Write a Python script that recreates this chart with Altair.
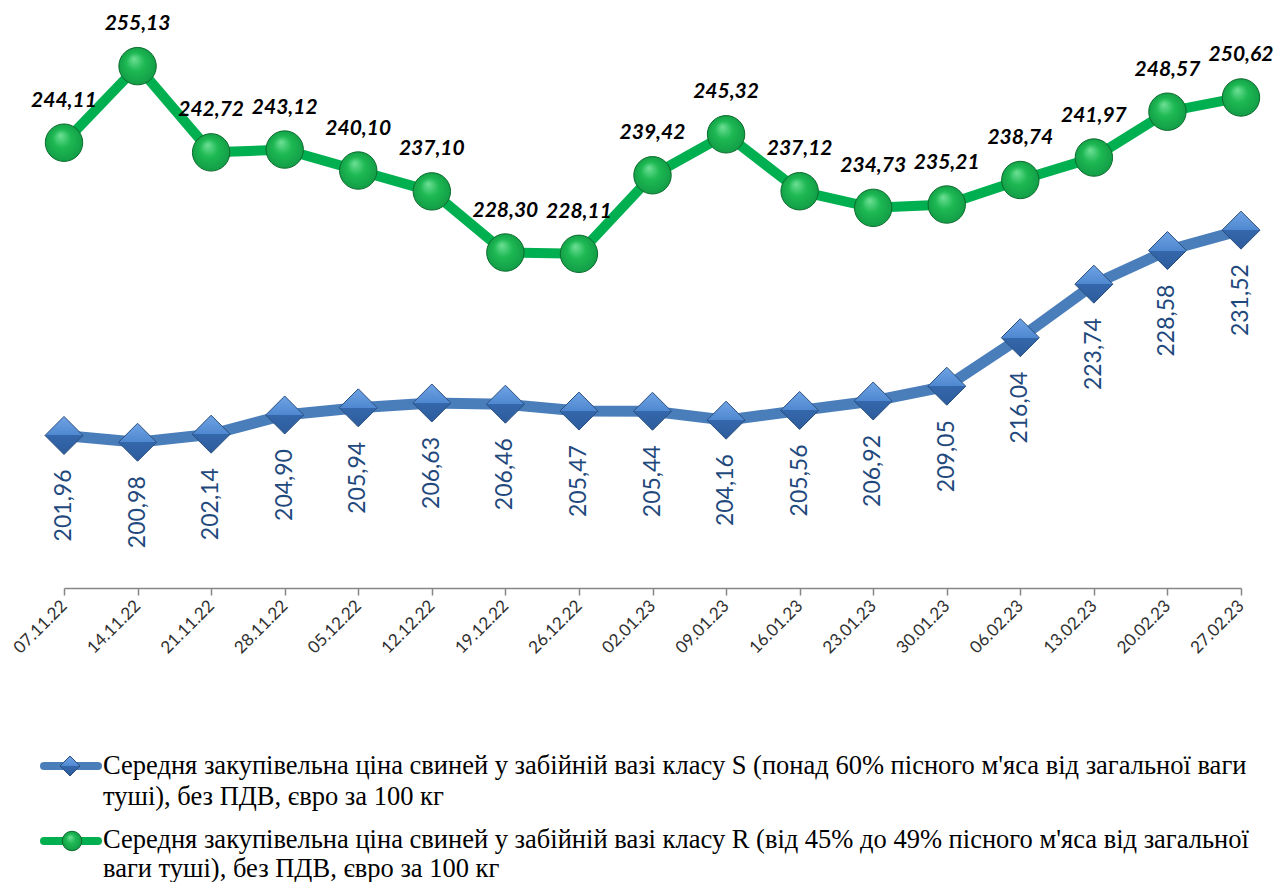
import altair as alt
import pandas as pd

dates = ["07.11.22", "14.11.22", "21.11.22", "28.11.22", "05.12.22", "12.12.22",
         "19.12.22", "26.12.22", "02.01.23", "09.01.23", "16.01.23", "23.01.23",
         "30.01.23", "06.02.23", "13.02.23", "20.02.23", "27.02.23"]
price_s = [201.96, 200.98, 202.14, 204.90, 205.94, 206.63, 206.46, 205.47, 205.44,
           204.16, 205.56, 206.92, 209.05, 216.04, 223.74, 228.58, 231.52]
price_r = [244.11, 255.13, 242.72, 243.12, 240.10, 237.10, 228.30, 228.11, 239.42,
           245.32, 237.12, 234.73, 235.21, 238.74, 241.97, 248.57, 250.62]
legend_s = ["Середня закупівельна ціна свиней у забійній вазі класу S (понад 60% пісного м'яса від загальної ваги",
            "туші), без ПДВ, євро за 100 кг"]
legend_r = ["Середня закупівельна ціна свиней у забійній вазі класу R (від 45% до 49% пісного м'яса від загальної",
            "ваги туші), без ПДВ, євро за 100 кг"]

BLUE = "#4A7EBB"
GREEN = "#00B050"
SERIF = "Liberation Serif"

df = pd.DataFrame({"date": dates, "s": price_s, "r": price_r})
df["s_label"] = [f"{v:.2f}".replace(".", ",") for v in price_s]
df["r_label"] = [f"{v:.2f}".replace(".", ",") for v in price_r]

x_enc = alt.X("date:N", sort=dates, title=None,
              scale=alt.Scale(type="point", padding=0),
              axis=alt.Axis(labelAngle=315, labelAlign="right", labelBaseline="middle",
                            labelFont="Lato", labelFontSize=17, labelColor="#303030",
                            labelPadding=8, domainColor="#868686", tickColor="#868686",
                            tickSize=7, domainWidth=1.5, tickWidth=1.5, grid=False))
yscale = alt.Scale(domain=[180, 263.5], nice=False, zero=False)
ys = alt.Y("s:Q", scale=yscale, axis=None)
yr = alt.Y("r:Q", scale=yscale, axis=None)

base = alt.Chart(df)

diamond_fill = alt.Gradient(
    gradient="linear", x1=0, y1=0, x2=0, y2=1,
    stops=[alt.GradientStop(color="#6FA3E4", offset=0),
           alt.GradientStop(color="#4F88D0", offset=0.5),
           alt.GradientStop(color="#3467AB", offset=0.5),
           alt.GradientStop(color="#2D5C9C", offset=1)])
circle_fill = alt.Gradient(
    gradient="radial", x1=0.4, y1=0.3, r1=0, x2=0.5, y2=0.5, r2=0.55,
    stops=[alt.GradientStop(color="#6FE096", offset=0),
           alt.GradientStop(color="#1DB853", offset=0.45),
           alt.GradientStop(color="#119A45", offset=1)])

line_s = base.mark_line(color=BLUE, strokeWidth=11).encode(x=x_enc, y=ys)
pts_s = base.mark_point(shape="diamond", size=1444, filled=True, fill=diamond_fill,
                        stroke="#2A4F7F", strokeWidth=1, opacity=1).encode(x=x_enc, y=ys)
txt_s = base.mark_text(angle=270, align="right", baseline="middle", yOffset=34,
                       font="Lato", fontSize=23, color="#1F497D").encode(
    x=x_enc, y=ys, text="s_label:N")

line_r = base.mark_line(color=GREEN, strokeWidth=10).encode(x=x_enc, y=yr)
pts_r = base.mark_point(shape="circle", size=1400, filled=True, fill=circle_fill,
                        stroke="#0B6B2C", strokeWidth=1, opacity=1).encode(x=x_enc, y=yr)
txt_r = base.mark_text(align="center", baseline="middle", yOffset=-42,
                       font="Lato", fontSize=21, fontWeight="bold", fontStyle="italic",
                       color="#000000").encode(x=x_enc, y=yr, text="r_label:N")

one = alt.Chart(pd.DataFrame({"k": [0]}))
leg_line_s = one.mark_rule(color=BLUE, strokeWidth=8, strokeCap="round").encode(
    x=alt.value(-20), x2=alt.value(34), y=alt.value(758))
leg_pt_s = one.mark_point(shape="diamond", size=400, filled=True, fill=diamond_fill,
                          stroke="#2A4F7F", strokeWidth=1, opacity=1).encode(
    x=alt.value(6), y=alt.value(758))
leg_txt_s = one.mark_text(align="left", baseline="alphabetic", lineHeight=31,
                          font=SERIF, fontSize=26.5, color="#000000").encode(
    x=alt.value(39), y=alt.value(766), text=alt.value(legend_s))

leg_line_r = one.mark_rule(color=GREEN, strokeWidth=8, strokeCap="round").encode(
    x=alt.value(-20), x2=alt.value(34), y=alt.value(833))
leg_pt_r = one.mark_point(shape="circle", size=380, filled=True, fill=circle_fill,
                          stroke="#0B6B2C", strokeWidth=1, opacity=1).encode(
    x=alt.value(8), y=alt.value(833))
leg_txt_r = one.mark_text(align="left", baseline="alphabetic", lineHeight=29,
                          font=SERIF, fontSize=26.5, color="#000000").encode(
    x=alt.value(39), y=alt.value(840), text=alt.value(legend_r))

chart = alt.layer(
    line_s, pts_s, txt_s, line_r, pts_r, txt_r,
    leg_line_s, leg_pt_s, leg_txt_s, leg_line_r, leg_pt_r, leg_txt_r
).properties(
    width=1177, height=580,
    autosize=alt.AutoSizeParams(type="none"),
    padding={"left": 56, "right": 35, "top": 0, "bottom": 294},
    background="white",
).configure_view(stroke=None)

chart.save("out.html", embed_options={"renderer": "svg", "actions": False})
